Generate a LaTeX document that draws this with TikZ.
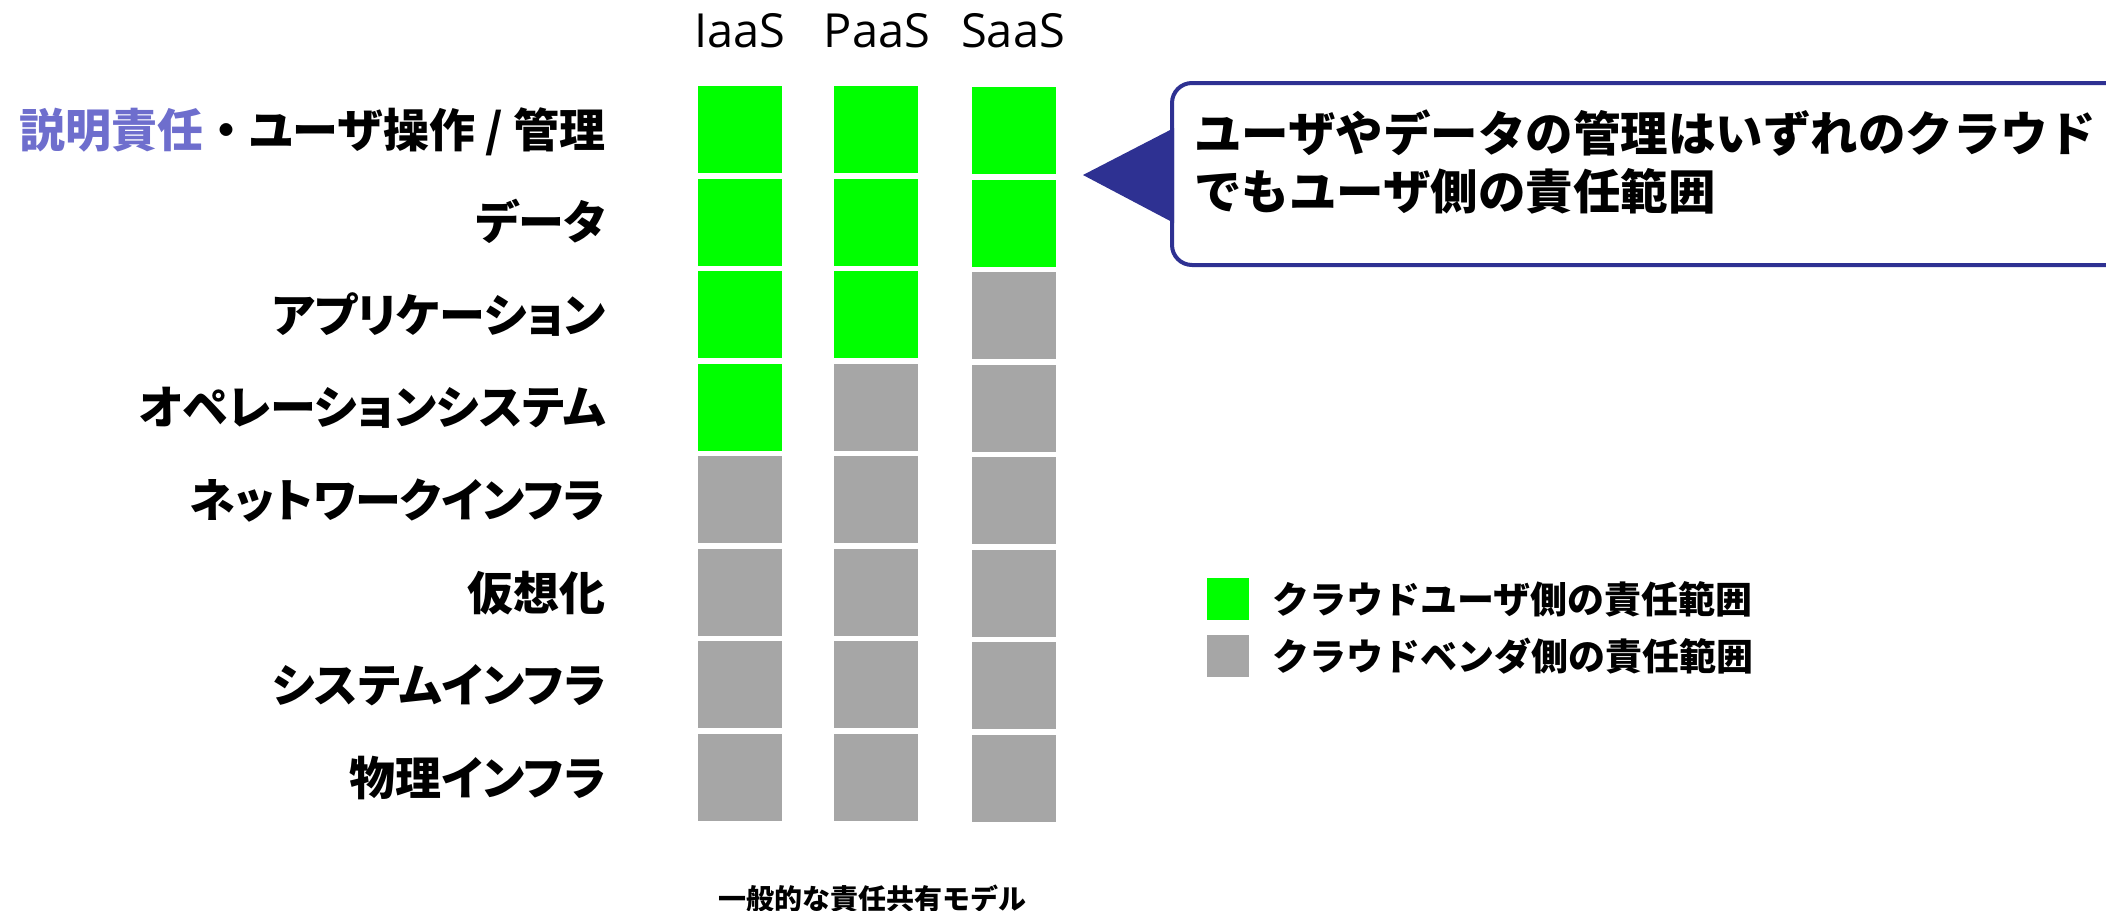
\documentclass[tikz,border=0pt]{standalone}
\usepackage{fontspec}
\setmainfont{Open Sans}
\newfontfamily\jpp{Noto Sans CJK JP}[RawFeature=+palt]
\newfontfamily\jpm{Noto Sans CJK JP}
\definecolor{cgreen}{RGB}{0,255,0}
\definecolor{cgray}{RGB}{166,166,166}
\definecolor{cnavy}{RGB}{46,49,146}
\definecolor{cpurple}{RGB}{110,110,205}
\tikzset{
  hdr/.style={anchor=base, inner sep=0pt, font=\fontsize{47}{56}\selectfont},
  lbl/.style={anchor=base east, inner sep=0pt, font=\jpp\bfseries\fontsize{46}{55}\selectfont},
  cell/.style={minimum width=84pt, minimum height=87pt, inner sep=0pt, draw=none},
  ucell/.style={cell, fill=cgreen},
  vcell/.style={cell, fill=cgray},
  calltext/.style={anchor=base west, inner sep=0pt, font=\jpm\bfseries\fontsize{47.5}{57}\selectfont},
  legtext/.style={anchor=base west, inner sep=0pt, font=\jpm\bfseries\fontsize{37}{44}\selectfont},
  legbox/.style={minimum width=42pt, minimum height=42pt, inner sep=0pt, draw=none},
}
\begin{document}
\begin{tikzpicture}[x=1pt,y=-1pt]
\useasboundingbox (0,0) rectangle (2106,910);
\clip (0,0) rectangle (2106,910);
% headers
\node[hdr] (hI) at (740,47) {IaaS};
\node[hdr] (hP) at (877,47) {PaaS};
\node[hdr] (hS) at (1013,47) {SaaS};
% cells
\foreach \r in {0,...,7}{
  \pgfmathsetmacro{\yy}{129.5+92.57*\r}
  \ifnum\r<4 \node[ucell] (cI-\r) at (740,\yy) {}; \else \node[vcell] (cI-\r) at (740,\yy) {}; \fi
  \ifnum\r<3 \node[ucell] (cP-\r) at (876,\yy) {}; \else \node[vcell] (cP-\r) at (876,\yy) {}; \fi
  \ifnum\r<2 \node[ucell] (cS-\r) at (1014,\yy+1) {}; \else \node[vcell] (cS-\r) at (1014,\yy+1) {}; \fi
}
% labels
\node[lbl] (l0) at (606,147) {\textcolor{cpurple}{説明責任}{\jpm ・}ユーザ操作 / 管理};
\node[lbl] (l1) at (606,239.5) {データ};
\node[lbl] (l2) at (606,332) {アプリケーション};
\node[lbl] (l3) at (606,424.5) {オペレーションシステム};
\node[lbl] (l4) at (606,517) {ネットワークインフラ};
\node[lbl] (l5) at (606,610) {仮想化};
\node[lbl] (l6) at (606,702.5) {システムインフラ};
\node[lbl] (l7) at (606,795) {物理インフラ};
% callout
\draw[cnavy, line width=4pt, rounded corners=20pt, fill=white] (1172,83) rectangle (2180,265);
\fill[cnavy] (1174,128) -- (1083,175) -- (1174,223) -- cycle;
\node[calltext] (t1) at (1194,151) {ユーザやデータの管理はいずれのクラウド};
\node[calltext] (t2) at (1194,209) {でもユーザ側の責任範囲};
% legend
\node[legbox, fill=cgreen] (lg1) at (1228,599) {};
\node[legbox, fill=cgray] (lg2) at (1228,655.5) {};
\node[legtext] (lt1) at (1272,613) {クラウドユーザ側の責任範囲};
\node[legtext] (lt2) at (1272,670) {クラウドベンダ側の責任範囲};
% caption
\node[anchor=base, inner sep=0pt, font=\jpm\bfseries\fontsize{28}{34}\selectfont] (cap) at (872,909) {一般的な責任共有モデル};
\end{tikzpicture}
\end{document}
